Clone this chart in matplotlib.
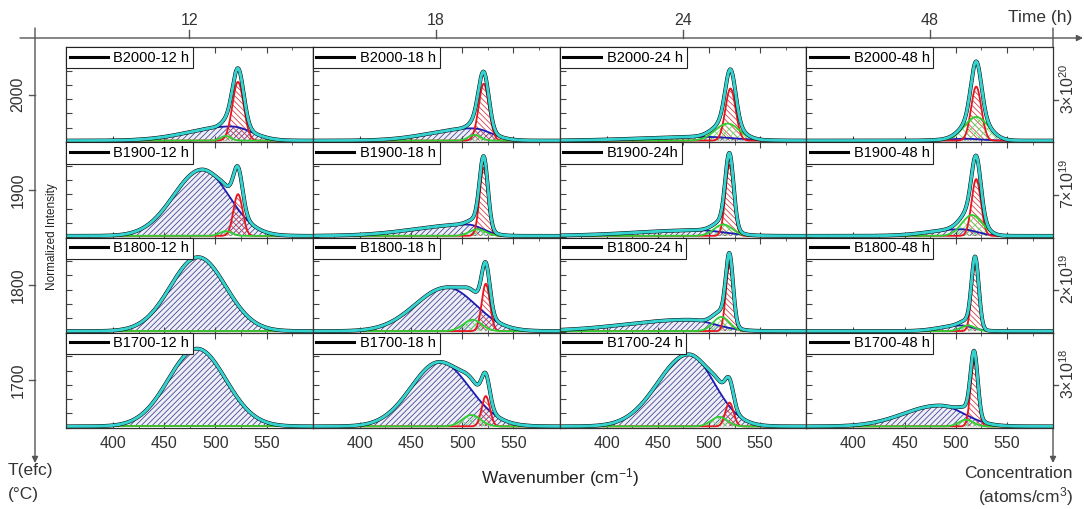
import numpy as np
import matplotlib
matplotlib.use('Agg')
import matplotlib.pyplot as plt
from matplotlib.ticker import MultipleLocator

plt.rcParams['font.family'] = ['Liberation Sans', 'DejaVu Sans']
plt.rcParams['mathtext.fontset'] = 'custom'
plt.rcParams['mathtext.rm'] = 'Liberation Sans'
plt.rcParams['mathtext.it'] = 'Liberation Sans'
plt.rcParams['hatch.linewidth'] = 0.55

# --- sample grid: rows = T(efc), columns = anneal time ---
temps = ['2000', '1900', '1800', '1700']
times = ['12', '18', '24', '48']
conc = [r'3×10$^{\mathregular{20}}$', r'7×10$^{\mathregular{19}}$',
        r'2×10$^{\mathregular{19}}$', r'3×10$^{\mathregular{18}}$']
labels = [['B2000-12 h', 'B2000-18 h', 'B2000-24 h', 'B2000-48 h'],
          ['B1900-12 h', 'B1900-18 h', 'B1900-24h', 'B1900-48 h'],
          ['B1800-12 h', 'B1800-18 h', 'B1800-24 h', 'B1800-48 h'],
          ['B1700-12 h', 'B1700-18 h', 'B1700-24 h', 'B1700-48 h']]

# amorphous band (blue): centre, height, left / right widths
amor_c = [[515, 510, 495, 510], [487, 505, 490, 505], [483, 485, 480, 505], [482, 478, 480, 484]]
amor_a = [[0.15, 0.13, 0.04, 0.02], [0.70, 0.12, 0.06, 0.07], [0.78, 0.46, 0.12, 0.06], [0.82, 0.68, 0.76, 0.22]]
amor_sl = [[40, 40, 60, 20], [28, 50, 60, 30], [27, 31, 60, 20], [28, 28, 30, 35]]
amor_sr = [[20, 18, 30, 15], [26, 15, 25, 15], [27, 28, 25, 12], [28, 29, 25, 24]]

# crystalline TO peak (red): centre, height, width
crys_c = [[522, 521, 521, 520], [522, 521, 520, 520], [522, 523, 520, 519], [522, 523, 520, 518]]
crys_a = [[0.62, 0.60, 0.55, 0.57], [0.44, 0.72, 0.75, 0.60], [0.0, 0.50, 0.70, 0.72], [0.0, 0.32, 0.25, 0.68]]
crys_s = [[5.5, 5.0, 5.0, 5.0], [4.5, 4.0, 4.0, 4.5], [4.5, 4.0, 3.5, 3.5], [4.5, 4.0, 4.0, 3.5]]

# intermediate / grain-boundary band (green): centre, height, width
mid_c = [[510, 512, 518, 520], [510, 515, 514, 516], [510, 510, 512, 512], [510, 509, 510, 510]]
mid_a = [[0.05, 0.06, 0.18, 0.25], [0.05, 0.07, 0.12, 0.22], [0.0, 0.12, 0.15, 0.06], [0.0, 0.12, 0.10, 0.07]]
mid_s = [[5, 6, 12, 12], [6, 8, 9, 10], [8, 9, 8, 7], [8, 9, 8, 7]]

baseline = 0.012
wn = np.linspace(354, 595, 700)


def gauss(x, c, a, s):
    return a * np.exp(-0.5 * ((x - c) / s) ** 2)


def split_gauss(x, c, a, sl, sr):
    s = np.where(x < c, sl, sr)
    return a * np.exp(-0.5 * ((x - c) / s) ** 2)


W, H = 1084, 509
fig = plt.figure(figsize=(W / 100, H / 100), dpi=100)

# frame with the Time / T(efc) / concentration arrows, in pixel units
ov = fig.add_axes([0, 0, 1, 1])
ov.set_xlim(0, W)
ov.set_ylim(H, 0)
ov.axis('off')

px_l, px_r, px_t, px_b = 66, 1053, 47, 428
col_w = (px_r - px_l) / 4
row_h = (px_b - px_t) / 4
grey = '#555555'
txt = '#333333'
arr = dict(arrowstyle='-|>', color=grey, lw=1.0, mutation_scale=9, shrinkA=0, shrinkB=0)

ov.annotate('', xy=(1083, 38), xytext=(20, 38), arrowprops=arr)
ov.annotate('', xy=(35, 463), xytext=(35, 28), arrowprops=arr)
ov.annotate('', xy=(px_r, 463), xytext=(px_r, 28), arrowprops=arr)

for j, t in enumerate(times):
    xc = px_l + (j + 0.5) * col_w
    ov.plot([xc, xc], [30, 38], color=grey, lw=1.0)
    ov.text(xc, 20, t, ha='center', va='center', fontsize=11.5, color=txt)
ov.text(1040, 17, 'Time (h)', ha='center', va='center', fontsize=12.5, color=txt)

for i, tv in enumerate(temps):
    yc = px_t + (i + 0.5) * row_h
    ov.plot([29, 35], [yc, yc], color=grey, lw=1.0)
    ov.text(18, yc, tv, ha='center', va='center', rotation=90, fontsize=11.5, color=txt)
    ov.plot([px_r, px_r + 5], [yc + 5, yc + 5], color=grey, lw=1.0)
    ov.text(1068, yc - 6, conc[i], ha='center', va='center', rotation=90, fontsize=11.5, color=txt)

ov.text(8, 470, 'T(efc)', ha='left', va='center', fontsize=12.5, color=txt)
ov.text(8, 494, '(°C)', ha='left', va='center', fontsize=12.5, color=txt)
ov.text(1073, 474, 'Concentration', ha='right', va='center', fontsize=12.5, color=txt)
ov.text(1073, 497, r'(atoms/cm$^{\mathregular{3}}$)', ha='right', va='center', fontsize=12.5, color=txt)
ov.text(560, 478, r'Wavenumber (cm$^{\mathregular{-1}}$)', ha='center', va='center', fontsize=12.5, color='#222222')
ov.text(52, 237, 'Normalized Intensity', ha='center', va='center', rotation=90, fontsize=8.5, color='#222222')

# spectra panels
for i in range(4):
    for j in range(4):
        left = (px_l + j * col_w) / W
        bottom = 1 - (px_t + (i + 1) * row_h) / H
        ax = fig.add_axes([left, bottom, col_w / W, row_h / H])

        amor = split_gauss(wn, amor_c[i][j], amor_a[i][j], amor_sl[i][j], amor_sr[i][j])
        crys = gauss(wn, crys_c[i][j], crys_a[i][j], crys_s[i][j])
        mid = gauss(wn, mid_c[i][j], mid_a[i][j], mid_s[i][j])
        total = baseline + amor + crys + mid

        ax.fill_between(wn, baseline, baseline + amor, facecolor='#eeeef7',
                        edgecolor='#3b3b8f', hatch='//////', linewidth=0)
        ax.fill_between(wn, baseline, baseline + crys, facecolor='none',
                        edgecolor='#d9303a', hatch='\\\\\\\\\\\\', linewidth=0)
        ax.fill_between(wn, baseline, baseline + mid, facecolor='none',
                        edgecolor='#6fd86f', hatch='xxxx', linewidth=0)
        ax.plot(wn, baseline + amor, color='#1c1cb4', lw=1.3)
        ax.plot(wn, baseline + crys, color='#e8141e', lw=1.3)
        ax.plot(wn, baseline + mid, color='#2fcf2f', lw=1.3)
        ax.plot(wn, total, color='black', lw=2.8, label=labels[i][j])
        ax.plot(wn, total, color='#35d3d0', lw=2.1)

        ax.set_xlim(354, 595)
        ax.set_ylim(-0.005, 1.0)
        ax.xaxis.set_major_locator(MultipleLocator(50))
        ax.xaxis.set_minor_locator(MultipleLocator(25))
        ax.yaxis.set_major_locator(MultipleLocator(0.15))
        ax.tick_params(which='both', direction='in', top=True, bottom=True,
                       left=True, right=False, labelleft=False, color='#444444',
                       labelsize=11.5, labelcolor=txt, pad=6)
        ax.tick_params(which='major', length=4)
        ax.tick_params(which='minor', length=2.5)
        if i < 3:
            ax.tick_params(labelbottom=False)
        for sp in ax.spines.values():
            sp.set_color('#333333')
            sp.set_linewidth(0.9)

        leg = ax.legend(loc='upper left', borderaxespad=0, fancybox=False,
                        edgecolor='#222222', framealpha=1, fontsize=10.5,
                        handlelength=2.6, handletextpad=0.4, borderpad=0.25)
        leg.get_frame().set_linewidth(0.8)
        leg.get_lines()[0].set_linewidth(2.2)

fig.savefig('out.png', dpi=100)
